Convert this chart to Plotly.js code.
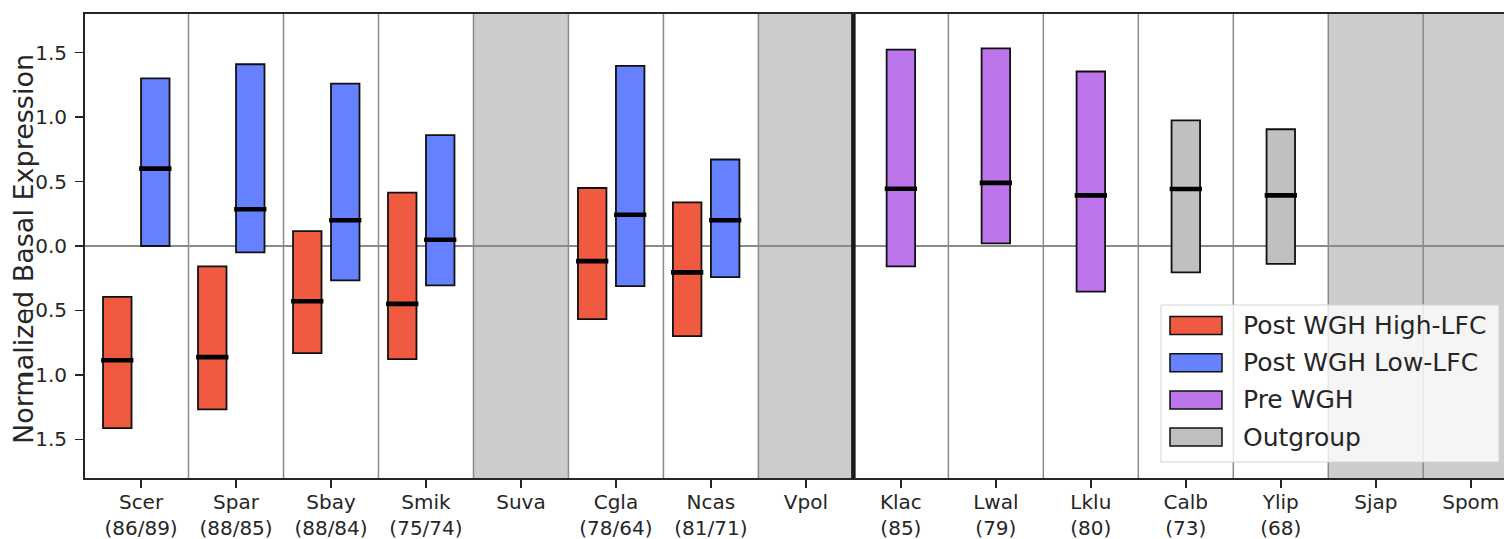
<!DOCTYPE html>
<html>
<head>
<meta charset="utf-8">
<script src="https://cdn.plot.ly/plotly-3.0.1.min.js"></script>
<style>
  html, body { margin: 0; padding: 0; background: #ffffff; }
  #chart { width: 1504px; height: 539px; }
</style>
</head>
<body>
<div id="chart"></div>
<script>
// Species along the x axis, and the gene counts printed under each name
const species = ['Scer', 'Spar', 'Sbay', 'Smik', 'Suva', 'Cgla', 'Ncas', 'Vpol',
                 'Klac', 'Lwal', 'Lklu', 'Calb', 'Ylip', 'Sjap', 'Spom'];
const counts = ['86/89', '88/85', '88/84', '75/74', '', '78/64', '81/71', '',
                '85', '79', '80', '73', '68', '', ''];
// Species without data (shaded columns)
const shaded = ['Suva', 'Vpol', 'Sjap', 'Spom'];
// The whole-genome duplication divides the species between Vpol and Klac
const wghAfter = 'Vpol';

// Post-WGH species, high-LFC genes: lower quartile, median, upper quartile
const highSpecies = ['Scer', 'Spar', 'Sbay', 'Smik', 'Cgla', 'Ncas'];
const highQ1 = [-1.413, -1.268, -0.831, -0.877, -0.567, -0.700];
const highMed = [-0.887, -0.862, -0.429, -0.449, -0.117, -0.205];
const highQ3 = [-0.395, -0.158, 0.115, 0.414, 0.450, 0.338];

// Post-WGH species, low-LFC genes
const lowSpecies = ['Scer', 'Spar', 'Sbay', 'Smik', 'Cgla', 'Ncas'];
const lowQ1 = [0.000, -0.050, -0.267, -0.305, -0.311, -0.242];
const lowMed = [0.600, 0.285, 0.200, 0.048, 0.242, 0.200];
const lowQ3 = [1.300, 1.410, 1.260, 0.860, 1.397, 0.671];

// Pre-WGH species
const preSpecies = ['Klac', 'Lwal', 'Lklu'];
const preQ1 = [-0.158, 0.020, -0.354];
const preMed = [0.444, 0.490, 0.393];
const preQ3 = [1.524, 1.534, 1.354];

// Outgroup species
const outSpecies = ['Calb', 'Ylip'];
const outQ1 = [-0.205, -0.138];
const outMed = [0.442, 0.393];
const outQ3 = [0.975, 0.906];

const groupNames = ['Post WGH High-LFC', 'Post WGH Low-LFC', 'Pre WGH', 'Outgroup'];
const groupColors = ['#F05A41', '#6681FF', '#BD75EC', '#C0C0C0'];

// ---- drawing ----
const FONT = 'DejaVu Sans, Liberation Sans, sans-serif';
const INK = '#262626';
const W = 1504, H = 539;
const M = { l: 85, r: 0, t: 14, b: 61 };
const plotW = W - M.l - M.r, plotH = H - M.t - M.b;
const px2x = p => (p - M.l) / plotW;          // page pixel -> paper x
const px2y = p => (H - M.b - p) / plotH;      // page pixel -> paper y

const BAR_W = 0.3;
const groups = [
  { sp: highSpecies, q1: highQ1, med: highMed, q3: highQ3, offset: -0.4 },
  { sp: lowSpecies,  q1: lowQ1,  med: lowMed,  q3: lowQ3,  offset: 0.0 },
  { sp: preSpecies,  q1: preQ1,  med: preMed,  q3: preQ3,  offset: -0.15 },
  { sp: outSpecies,  q1: outQ1,  med: outMed,  q3: outQ3,  offset: -0.15 }
];

const traces = [];
groups.forEach((g, k) => {
  const xs = g.sp.map(s => species.indexOf(s));
  traces.push({
    type: 'bar',
    name: groupNames[k],
    x: xs,
    base: g.q1,
    y: g.q3.map((v, i) => v - g.q1[i]),
    width: BAR_W,
    offset: g.offset,
    marker: { color: groupColors[k], line: { color: '#111111', width: 1.8 } },
    showlegend: false,
    hoverinfo: 'skip'
  });
});
// Median ticks across each box
groups.forEach(g => {
  const mx = [], my = [];
  g.sp.forEach((s, i) => {
    const left = species.indexOf(s) + g.offset;
    mx.push(left - 0.02, left + BAR_W + 0.02, null);
    my.push(g.med[i], g.med[i], null);
  });
  traces.push({
    type: 'scatter', mode: 'lines', x: mx, y: my,
    line: { color: '#000000', width: 4.6 },
    showlegend: false, hoverinfo: 'skip', cliponaxis: false
  });
});

const shapes = [];
// grey columns for species without data
shaded.forEach(s => {
  const i = species.indexOf(s);
  shapes.push({ type: 'rect', xref: 'x', yref: 'paper', x0: i - 0.5, x1: i + 0.5, y0: 0, y1: 1,
                fillcolor: '#CCCCCC', line: { width: 0 }, layer: 'below' });
});
// column separators
const wghIdx = species.indexOf(wghAfter);
for (let i = 0; i < species.length - 1; i++) {
  if (i === wghIdx) continue;
  shapes.push({ type: 'line', xref: 'x', yref: 'paper', x0: i + 0.5, x1: i + 0.5, y0: 0, y1: 1,
                line: { color: '#8A8A8A', width: 1.5 }, layer: 'below' });
}
// zero reference
shapes.push({ type: 'line', xref: 'paper', yref: 'y', x0: 0, x1: 1, y0: 0, y1: 0,
              line: { color: '#8A8A8A', width: 2 }, layer: 'below' });
// WGH divider
shapes.push({ type: 'line', xref: 'x', yref: 'paper', x0: wghIdx + 0.5, x1: wghIdx + 0.5, y0: 0, y1: 1,
              line: { color: '#1A1A1A', width: 4.5 }, layer: 'below' });

// Legend box drawn by hand so the swatches can be wide
const annotations = [];
shapes.push({ type: 'rect', xref: 'paper', yref: 'paper',
              x0: px2x(1161), x1: px2x(1499), y0: px2y(462), y1: px2y(305),
              fillcolor: 'rgba(255,255,255,0.8)', line: { color: '#D3D3D3', width: 1 }, layer: 'above' });
groupNames.forEach((name, k) => {
  const cy = 325.5 + k * 37.2;
  shapes.push({ type: 'rect', xref: 'paper', yref: 'paper',
                x0: px2x(1170), x1: px2x(1222), y0: px2y(cy + 9), y1: px2y(cy - 9),
                fillcolor: groupColors[k], line: { color: '#111111', width: 1.5 }, layer: 'above' });
  annotations.push({ xref: 'paper', yref: 'paper', x: px2x(1241), y: px2y(cy),
                     xanchor: 'left', yanchor: 'middle', text: name, showarrow: false,
                     font: { family: FONT, size: 25, color: INK } });
});
// y-axis title
annotations.push({ xref: 'paper', yref: 'paper', x: px2x(23), y: px2y(249),
                   xanchor: 'center', yanchor: 'middle', textangle: -90, showarrow: false,
                   text: 'Normalized Basal Expression',
                   font: { family: FONT, size: 27, color: INK } });

const ticktext = species.map((s, i) => counts[i] ? s + '<br>(' + counts[i] + ')' : s);

const layout = {
  width: W, height: H,
  margin: M,
  paper_bgcolor: '#FFFFFF', plot_bgcolor: '#FFFFFF',
  barmode: 'overlay',
  showlegend: false,
  font: { family: FONT, color: INK },
  xaxis: {
    range: [-0.59, 14.35],
    tickmode: 'array', tickvals: species.map((s, i) => i), ticktext: ticktext,
    ticks: 'outside', ticklen: 8, tickwidth: 1.5, tickcolor: INK,
    ticklabelstandoff: -3,
    tickfont: { family: FONT, size: 20, color: INK },
    showline: true, linecolor: INK, linewidth: 2, mirror: true,
    showgrid: false, zeroline: false, fixedrange: true
  },
  yaxis: {
    range: [-1.8, 1.8],
    tickmode: 'array', tickvals: [-1.5, -1.0, -0.5, 0, 0.5, 1.0, 1.5], tickformat: '.1f',
    ticks: 'outside', ticklen: 8, tickwidth: 1.5, tickcolor: INK,
    ticklabelstandoff: 4,
    tickfont: { family: FONT, size: 20, color: INK },
    showline: true, linecolor: INK, linewidth: 2, mirror: false,
    showgrid: false, zeroline: false, fixedrange: true
  },
  shapes: shapes,
  annotations: annotations
};

Plotly.newPlot('chart', traces, layout, { staticPlot: true, displayModeBar: false });
</script>
</body>
</html>
